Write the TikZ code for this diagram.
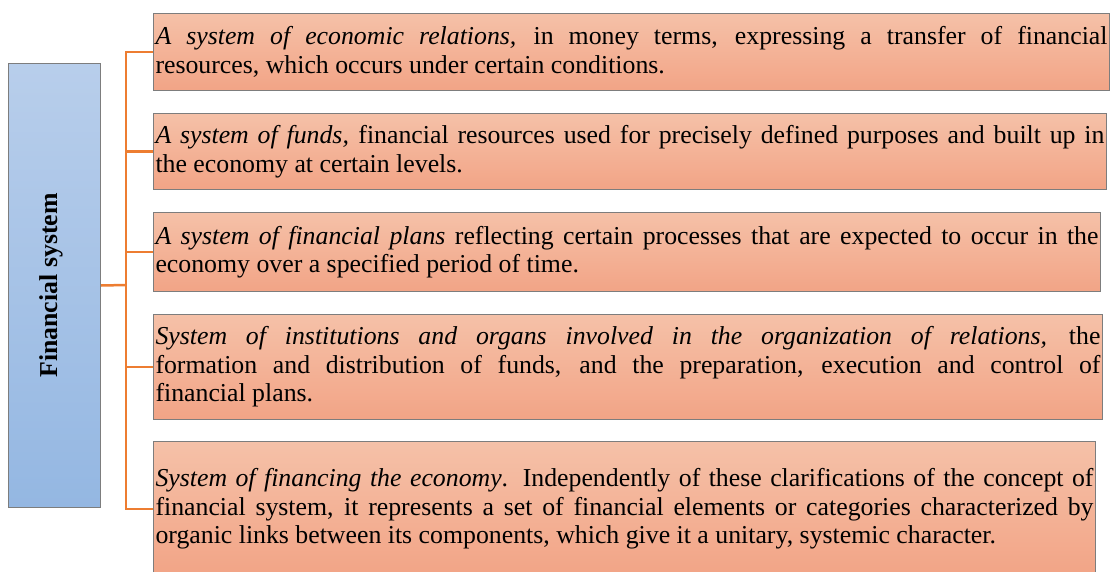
\documentclass[tikz,border=0pt]{standalone}
\usepackage{fontspec}
\setmainfont{Liberation Serif}
\definecolor{orangeTop}{RGB}{245,193,168}
\definecolor{orangeBot}{RGB}{242,164,134}
\definecolor{blueTop}{RGB}{184,206,235}
\definecolor{blueBot}{RGB}{148,183,226}
\definecolor{edgeGray}{RGB}{125,125,125}
\definecolor{connOrange}{RGB}{237,125,49}
\begin{document}
\begin{tikzpicture}[x=1pt,y=-1pt,
  defbox/.style={draw=edgeGray, line width=1pt, rectangle, anchor=north west,
    top color=orangeTop, bottom color=orangeBot, inner xsep=2pt, inner ysep=0pt,
    align=justify, font=\fontsize{25.8pt}{28.5pt}\selectfont},
  mainbox/.style={draw=edgeGray, line width=1pt, rectangle, anchor=north west,
    top color=blueTop, bottom color=blueBot, inner sep=0pt},
  conn/.style={draw=connOrange, line width=2.5pt}]
\useasboundingbox (0,0) rectangle (1110,572);
\tolerance=10000 \emergencystretch=20pt
\node[mainbox, minimum width=92pt, minimum height=444pt] (L) at (8,63) {};
\node[rotate=90, font=\fontsize{25.8pt}{28pt}\selectfont\bfseries] (Lt) at ([xshift=-3pt]L.center) {Financial system};
\node[defbox, text width=952pt, minimum height=77pt] (B1) at (153,13)
  {\textit{A system of economic relations,} in money terms, expressing a transfer of financial\linebreak resources, which occurs under certain conditions.};
\node[defbox, text width=949pt, minimum height=76pt] (B2) at (153,113)
  {\textit{A system of funds,} financial resources used for precisely defined purposes and built up in\linebreak the economy at certain levels.};
\node[defbox, text width=943pt, minimum height=79pt] (B3) at (153,212)
  {\textit{A system of financial plans} reflecting certain processes that are expected to occur in the\linebreak economy over a specified period of time.};
\node[defbox, text width=945pt, minimum height=105pt] (B4) at (153,314)
  {\textit{System of institutions and organs involved in the organization of relations,} the\linebreak formation and distribution of funds, and the preparation, execution and control of\linebreak financial plans.};
\node[defbox, text width=938pt, minimum height=135pt] (B5) at (153,441)
  {\textit{System of financing the economy}. Independently of these clarifications of the concept of\linebreak financial system, it represents a set of financial elements or categories characterized by\linebreak organic links between its components, which give it a unitary, systemic character.};
\coordinate (J) at (126,285);
\draw[conn] (L.east) -- (J);
\foreach \b in {B1,B2,B3,B4,B5} { \draw[conn] (\b.west) -| (J); }
\end{tikzpicture}
\end{document}
